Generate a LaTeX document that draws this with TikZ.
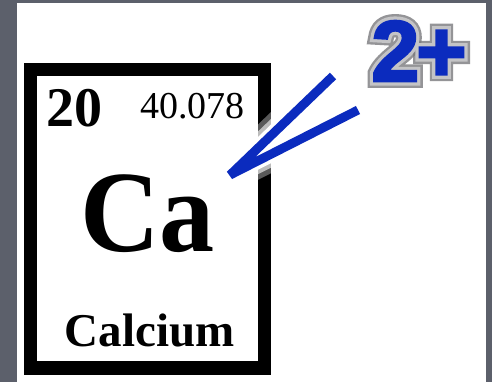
\documentclass[tikz,border=0pt]{standalone}
\usepackage{fontspec}
\setmainfont{Liberation Serif}
\newfontfamily\plusfont[FakeBold=3]{Liberation Sans Bold}
\newfontfamily\rimouter[FakeBold=16]{Liberation Sans Bold}
\newfontfamily\riminner[FakeBold=10.5]{Liberation Sans Bold}
\definecolor{bggrey}{HTML}{5C606B}
\definecolor{ionblue}{HTML}{0B2BBE}
\definecolor{rimdark}{HTML}{7A7A7E}
\definecolor{rimlight}{HTML}{C4C4C6}
\tikzset{
  frame/.style={draw=black, line width=13.5pt},
  stroke/.style={draw=ionblue, line width=9pt, line cap=butt, line join=bevel},
  halo/.style={draw=white, line cap=round, line join=round},
  iontext/.style={inner sep=0pt, anchor=base}
}
\begin{document}
\begin{tikzpicture}[x=1pt,y=1pt]
  \fill[bggrey] (0,0) rectangle (492,382);
  \useasboundingbox (0,0) rectangle (492,382);
  \fill[white] (17,0) rectangle (486,379);
  % element box
  \draw[frame] (30.5,13.8) rectangle (264.5,312.5);
  % pointer halo
  \coordinate (p1) at (333,306);
  \coordinate (p0) at (230,207);
  \coordinate (p2) at (358,272);
  \draw[halo, line width=34pt, opacity=0.35] (p1) -- (p0) -- (p2);
  \draw[halo, line width=24pt, opacity=0.6] (p1) -- (p0) -- (p2);
  \draw[halo, line width=16pt] (p1) -- (p0) -- (p2);
  \node[inner sep=0pt, anchor=base west, font=\bfseries\fontsize{56}{56}\selectfont] (num) at (46,255) {20};
  \node[inner sep=0pt, anchor=base east, font=\fontsize{38}{38}\selectfont] (mass) at (245,263) {40.078};
  \node[inner sep=0pt, anchor=base, font=\bfseries\fontsize{116}{116}\selectfont, xscale=0.95] (sym) at (147.5,130) {Ca};
  \node[inner sep=0pt, anchor=base, font=\bfseries\fontsize{47}{47}\selectfont] (name) at (149.5,35) {Calcium};
  \draw[stroke] (p1) -- (p0) -- (p2);
  % charge
  \node[iontext, text=rimdark, opacity=0.8, font=\rimouter\fontsize{86}{86}\selectfont] (rimA) at (419,301) {2\kern-3pt+};
  \node[iontext, text=rimlight, font=\riminner\fontsize{86}{86}\selectfont] (rimB) at (419,301) {2\kern-3pt+};
  \node[iontext, text=ionblue, font=\plusfont\fontsize{86}{86}\selectfont] (charge) at (419,301) {2\kern-3pt+};
\end{tikzpicture}
\end{document}
